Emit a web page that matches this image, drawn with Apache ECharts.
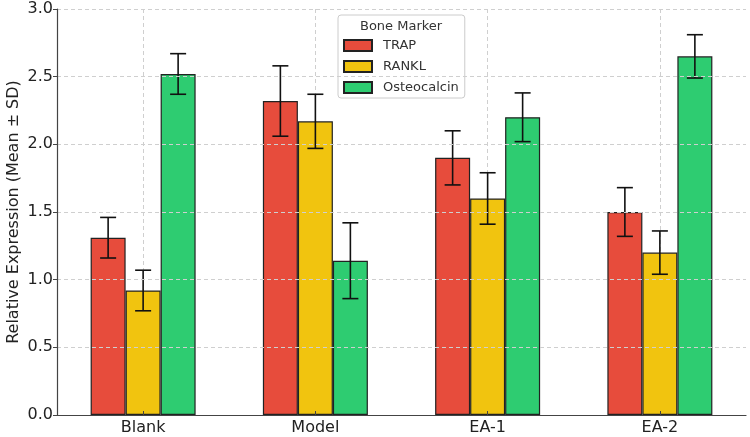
<!DOCTYPE html>
<html>
<head>
<meta charset="utf-8">
<script src="https://cdn.jsdelivr.net/npm/echarts@6/dist/echarts.min.js"></script>
<style>html,body{margin:0;padding:0;background:#fff}#c{width:750px;height:437px}</style>
</head>
<body>
<div id="c"></div>
<script>
const categories = ['Blank', 'Model', 'EA-1', 'EA-2'];
const markers = ['TRAP', 'RANKL', 'Osteocalcin'];
const trapMean = [1.31, 2.32, 1.90, 1.50];
const trapSD = [0.15, 0.26, 0.20, 0.18];
const ranklMean = [0.92, 2.17, 1.60, 1.20];
const ranklSD = [0.15, 0.20, 0.19, 0.16];
const osteoMean = [2.52, 1.14, 2.20, 2.65];
const osteoSD = [0.15, 0.28, 0.18, 0.16];
const yTicks = [0, 0.5, 1.0, 1.5, 2.0, 2.5, 3.0];

const colors = ['#e74c3c', '#f1c40f', '#2ecc71'];
const means = [trapMean, ranklMean, osteoMean];
const sds = [trapSD, ranklSD, osteoSD];
const FONT = 'DejaVu Sans';
const BAR_W = 35;

const chart = echarts.init(document.getElementById('c'), null, {renderer: 'canvas'});

const series = [];
markers.forEach((m, k) => {
  series.push({
    name: m,
    type: 'bar',
    xAxisIndex: 0,
    yAxisIndex: 0,
    barWidth: BAR_W,
    barGap: '0%',
    data: means[k],
    itemStyle: {color: colors[k], borderColor: '#222', borderWidth: 1.2},
    emphasis: {disabled: true},
    z: 2
  });
});
markers.forEach((m, k) => {
  const off = (k - 1) * BAR_W;
  series.push({
    name: m + ' SD',
    type: 'custom',
    xAxisIndex: 0,
    yAxisIndex: 0,
    z: 5,
    silent: true,
    data: categories.map((c, i) => [i, means[k][i] - sds[k][i], means[k][i] + sds[k][i]]),
    renderItem: function (params, api) {
      const x = api.value(0);
      const lo = api.coord([x, api.value(1)]);
      const hi = api.coord([x, api.value(2)]);
      const cx = lo[0] + off;
      const st = {stroke: '#111', lineWidth: 1.6};
      const half = 8;
      return {
        type: 'group',
        children: [
          {type: 'line', shape: {x1: cx, y1: lo[1], x2: cx, y2: hi[1]}, style: st},
          {type: 'line', shape: {x1: cx - half, y1: hi[1], x2: cx + half, y2: hi[1]}, style: st},
          {type: 'line', shape: {x1: cx - half, y1: lo[1], x2: cx + half, y2: lo[1]}, style: st}
        ]
      };
    }
  });
});

const gridCats = [];
for (let i = 0; i < categories.length * 2 + 1; i++) gridCats.push(String(i));

chart.setOption({
  animation: false,
  backgroundColor: '#fff',
  textStyle: {fontFamily: FONT},
  grid: {left: 57, right: 4, top: 9, bottom: 22, containLabel: false, outerBoundsMode: 'none'},
  legend: {
    data: markers,
    orient: 'vertical',
    left: 338,
    top: 15,
    icon: 'rect',
    itemWidth: 28,
    itemHeight: 11,
    itemGap: 8,
    padding: [24, 6, 4, 5],
    backgroundColor: 'rgba(255,255,255,0.85)',
    borderColor: '#cccccc',
    borderWidth: 1,
    borderRadius: 3,
    textStyle: {fontFamily: FONT, fontSize: 13, color: '#333', padding: [0, 0, 0, 6]},
    selectedMode: false
  },
  graphic: [{
    type: 'text',
    left: 360,
    top: 20,
    z: 100,
    style: {text: 'Bone Marker', font: '13px "DejaVu Sans"', fill: '#333'}
  }],
  xAxis: [{
    type: 'category',
    data: categories,
    boundaryGap: true,
    axisLine: {show: true, lineStyle: {color: '#444', width: 1.2}},
    axisTick: {show: true, alignWithLabel: true, inside: true, length: 4, lineStyle: {color: '#444'}},
    axisLabel: {fontFamily: FONT, fontSize: 16, color: '#222', margin: 5},
    splitLine: {show: false},
    z: 10
  }, {
    type: 'category',
    data: gridCats,
    boundaryGap: false,
    position: 'bottom',
    axisLine: {show: false},
    axisTick: {show: false},
    axisLabel: {show: false},
    splitLine: {
      show: true,
      interval: function (idx) { return idx % 2 === 1; },
      lineStyle: {color: '#cfcfcf', type: [4, 3], width: 1}
    }
  }],
  yAxis: {
    type: 'value',
    min: yTicks[0],
    max: yTicks[yTicks.length - 1],
    interval: 0.5,
    name: 'Relative Expression (Mean ± SD)',
    nameLocation: 'middle',
    nameGap: 35,
    nameMoveOverlap: false,
    nameTextStyle: {fontFamily: FONT, fontSize: 16, color: '#222'},
    axisLine: {show: true, lineStyle: {color: '#444', width: 1.2}},
    axisTick: {show: true, length: 4, lineStyle: {color: '#444'}},
    axisLabel: {fontFamily: FONT, fontSize: 16, color: '#222', margin: 4, formatter: v => v.toFixed(1)},
    splitLine: {show: true, lineStyle: {color: '#cfcfcf', type: [4, 3], width: 1}},
    z: 10
  },
  series: series
});
</script>
</body>
</html>
